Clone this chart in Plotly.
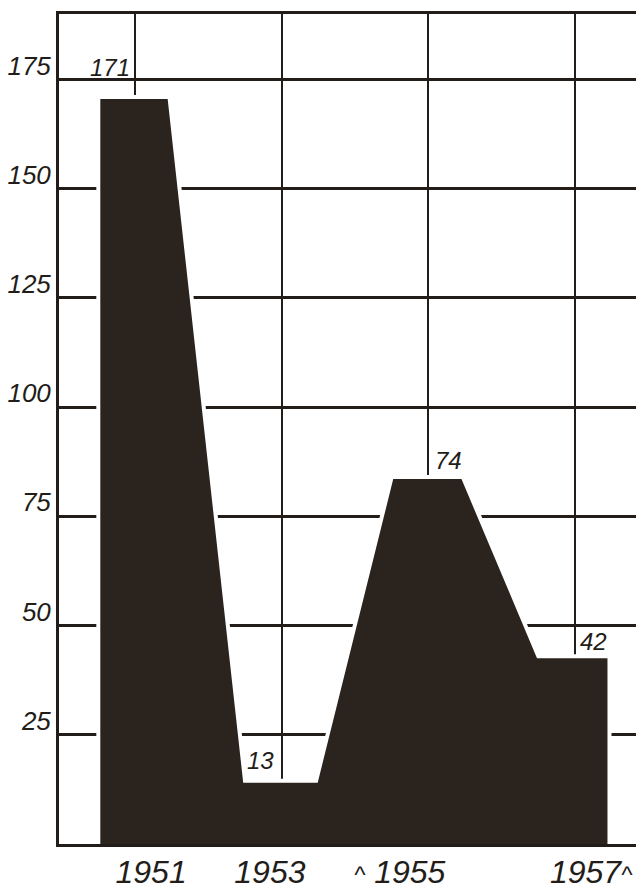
import plotly.graph_objects as go

# ---- data ----
years = [1951, 1953, 1955, 1957]
drawn_height = [171, 14.5, 84, 43]          # heights as drawn
label_text = ["171", "13", "74", "42"]       # values written on the chart
year_labels = ["1951", "1953", "^ 1955", "1957^"]
y_ticks = [25, 50, 75, 100, 125, 150, 175]

# ---- style ----
INK = "#231d19"
FILL = "#2b231e"
HAND = "Liberation Sans, Arial, sans-serif"
plateau_left, plateau_right = 0.5, 0.47
year_label_shift = [0.22, -0.16, -0.39, 0.22]
value_label_shift = [(-25, 30), (-21, 20), (20, 17), (18, 15)]

xs = [years[0] - plateau_left]
ys = [0]
for yr, h in zip(years, drawn_height):
    xs += [yr - plateau_left, yr + plateau_right]
    ys += [h, h]
xs += [years[-1] + plateau_right]
ys += [0]

fig = go.Figure()
fig.add_trace(go.Scatter(
    x=xs, y=ys, mode="lines", fill="toself", fillcolor=FILL,
    line=dict(color="white", width=4), hoverinfo="skip", showlegend=False,
))
fig.add_trace(go.Scatter(
    x=[years[0]], y=[0], xaxis="x2", mode="markers",
    marker=dict(opacity=0), hoverinfo="skip", showlegend=False,
))

def fmt(t):
    return t.replace("^", "<span style='font-size:24px'>^</span>")

annotations = []
for yr, h, t, (dx, dy) in zip(years, drawn_height, label_text, value_label_shift):
    annotations.append(dict(
        x=yr, y=h, text=t, showarrow=False, xshift=dx, yshift=dy,
        font=dict(family=HAND, size=24, color=INK, style="italic"),
    ))

xr = [1949.964, 1957.927]
# the page body has an 8px margin, so the figure is 8px smaller than the window
fig.update_layout(
    width=636, height=885,
    margin=dict(l=51, r=1, t=6, b=49, autoexpand=False),
    paper_bgcolor="white", plot_bgcolor="white",
    annotations=annotations,
    xaxis=dict(
        range=xr, tickvals=years, showticklabels=False, ticks="",
        showgrid=True, gridcolor=INK, gridwidth=2.2, zeroline=False,
        showline=True, linecolor=INK, linewidth=3, mirror=True,
        automargin=False,
    ),
    xaxis2=dict(
        range=xr, overlaying="x", side="bottom", anchor="y",
        tickvals=[y + s for y, s in zip(years, year_label_shift)],
        ticktext=[fmt(t) for t in year_labels],
        showgrid=False, zeroline=False, showline=False, ticks="",
        ticklabelstandoff=6, automargin=False,
        tickfont=dict(family=HAND, size=32, color=INK, style="italic"),
    ),
    yaxis=dict(
        range=[0, 190], tickvals=y_ticks, ticktext=[str(v) for v in y_ticks],
        showgrid=True, gridcolor=INK, gridwidth=2.5, zeroline=False,
        showline=True, linecolor=INK, linewidth=3, mirror=True, ticks="",
        ticklabelstandoff=0, ticklabelshift=-14, automargin=False,
        tickfont=dict(family=HAND, size=26, color=INK, style="italic"),
    ),
)

fig.write_html("out.html")
